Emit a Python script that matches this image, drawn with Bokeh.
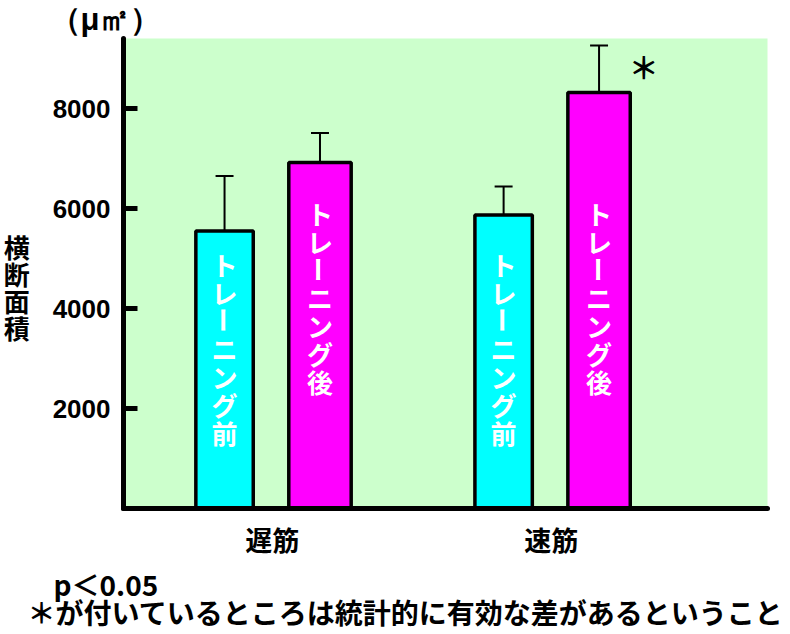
from bokeh.plotting import figure
from bokeh.models import Range1d, FixedTicker, Label, ColumnDataSource, Title
from bokeh.core.properties import value
from bokeh.embed import file_html
from bokeh.resources import INLINE

# ---- data ----
categories = ["遅筋", "速筋"]
before_mean = [5550, 5870]
before_sd = [1100, 570]
after_mean = [6920, 8320]
after_sd = [590, 940]
after_significant = [False, True]
series_labels = ["トレーニング前", "トレーニング後"]
y_ticks = [2000, 4000, 6000, 8000]
y_label = "横断面積"
unit_label = "（μ㎡）"
note_p = "p＜0.05"
note_text = "＊が付いているところは統計的に有効な差があるということ"

# ---- layout ----
W, H = 790, 634
L, R, T, B = 122, 767, 38, 508          # frame edges in pixels
GROUP_PX = 279.5                         # pixels between group centres
x_start = (L - 271) / GROUP_PX
x_end = (R - 271) / GROUP_PX
OFF = 0.171
W_BEFORE = 57.5 / GROUP_PX
W_AFTER = 62.5 / GROUP_PX
CAP = 9 / GROUP_PX
JP = "Noto Sans CJK JP"

p = figure(width=W, height=H, output_backend="svg", toolbar_location=None,
           x_range=Range1d(x_start, x_end), y_range=Range1d(0, 9400),
           min_border_left=L, min_border_right=W - R,
           min_border_top=T, min_border_bottom=H - B)
p.background_fill_color = "#CCFFCC"
p.border_fill_color = "white"
p.outline_line_color = None
p.xgrid.grid_line_color = None
p.ygrid.grid_line_color = None

xs = list(range(len(categories)))
x_before = [x - OFF for x in xs]
x_after = [x + OFF for x in xs]

p.vbar(x=x_before, top=before_mean, bottom=0, width=W_BEFORE,
       fill_color="#00FFFF", line_color="black", line_width=3.5)
p.vbar(x=x_after, top=after_mean, bottom=0, width=W_AFTER,
       fill_color="#FF00FF", line_color="black", line_width=3.5)

# error bars (upper only)
for xc, m, s in [(x_before, before_mean, before_sd), (x_after, after_mean, after_sd)]:
    tops = [a + b for a, b in zip(m, s)]
    p.segment(x0=xc, y0=m, x1=xc, y1=tops, line_color="black", line_width=2)
    p.segment(x0=[x - CAP for x in xc], y0=tops, x1=[x + CAP for x in xc], y1=tops,
              line_color="black", line_width=2)

# vertical labels inside bars
PITCH = 28
label_centre = {0: 3210, 1: 4220}
tx, ty, tt, ta, to = [], [], [], [], []
for si, (xc, lab) in enumerate([(x_before, series_labels[0]), (x_after, series_labels[1])]):
    n = len(lab)
    for x in xc:
        for i, ch in enumerate(lab):
            tx.append(x)
            ty.append(label_centre[si])
            tt.append(ch)
            ta.append(-1.5708 if ch == "ー" else 0.0)
            to.append((i - (n - 1) / 2) * PITCH)
src = ColumnDataSource(dict(x=tx, y=ty, text=tt, angle=ta, yoff=to))
p.text(x="x", y="y", text="text", angle="angle", y_offset="yoff", source=src,
       text_font=value(JP), text_font_style="bold", text_font_size="26px",
       text_color="white", text_align="center", text_baseline="middle")

# significance marks
for x, m, s, sig in zip(x_after, after_mean, after_sd, after_significant):
    if sig:
        p.add_layout(Label(x=x + 0.16, y=m + s - 400, text="＊",
                           text_font=JP, text_font_style="bold", text_font_size="30px",
                           text_color="black", text_align="center", text_baseline="middle"))

# axes
yax = p.yaxis[0]
yax.ticker = FixedTicker(ticks=y_ticks)
yax.axis_line_width = 5
yax.axis_line_color = "black"
yax.axis_line_cap = "round"
yax.major_tick_in = 14
yax.major_tick_out = 0
yax.major_tick_line_width = 5
yax.major_tick_line_color = "black"
yax.minor_tick_line_color = None
yax.major_label_standoff = 13
yax.major_label_text_font = "Liberation Sans"
yax.major_label_text_font_style = "bold"
yax.major_label_text_font_size = "26px"
yax.major_label_text_color = "black"
yax.axis_label = "\n" + "\n".join(y_label)
yax.axis_label_text_font = JP
yax.axis_label_text_font_style = "bold"
yax.axis_label_text_font_size = "26px"
yax.axis_label_text_color = "black"
yax.axis_label_text_line_height = 0.73
yax.axis_label_standoff = 20
yax.axis_label_orientation = "horizontal"

xax = p.xaxis[0]
xax.ticker = FixedTicker(ticks=xs)
xax.major_label_overrides = {i: c for i, c in enumerate(categories)}
xax.axis_line_width = 5
xax.axis_line_color = "black"
xax.axis_line_cap = "round"
xax.major_tick_line_color = None
xax.major_tick_in = 0
xax.major_tick_out = 0
xax.minor_tick_line_color = None
xax.minor_tick_out = 0
xax.major_label_standoff = 11
xax.major_label_text_font = JP
xax.major_label_text_font_style = "bold"
xax.major_label_text_font_size = "27px"
xax.major_label_text_color = "black"

# texts outside the frame as layout-managed titles
p.add_layout(Title(text=unit_label, align="left", offset=48 - L, standoff=0,
                   text_font="Liberation Sans", text_font_style="bold",
                   text_font_size="31px", text_color="black",
                   vertical_align="top"), "above")
p.add_layout(Title(text=note_p, align="left", offset=52 - L, standoff=2.5,
                   text_font=JP, text_font_style="bold", text_font_size="28px",
                   text_color="black", vertical_align="middle"), "below")
p.add_layout(Title(text=note_text, align="left", offset=26 - L, standoff=-31.5,
                   text_font=JP, text_font_style="bold", text_font_size="28px",
                   text_color="black", vertical_align="middle"), "below")

open("out.html", "w").write(file_html(p, INLINE))
